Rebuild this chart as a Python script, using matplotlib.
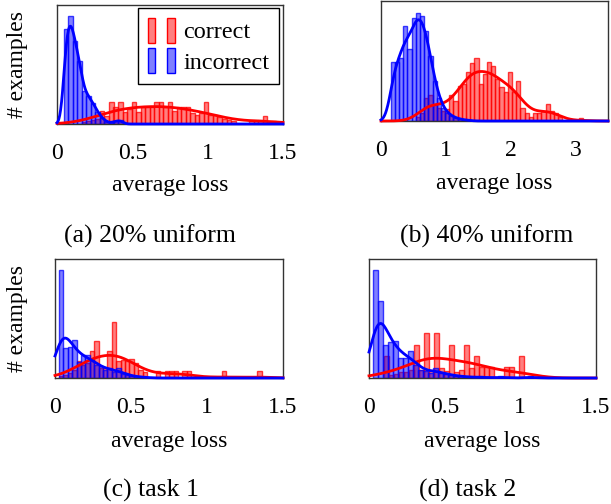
import numpy as np
import matplotlib
matplotlib.use("Agg")
import matplotlib.pyplot as plt
from matplotlib.patches import Rectangle
from matplotlib.legend_handler import HandlerTuple

plt.rcParams['font.family'] = ['Liberation Serif', 'DejaVu Serif']

# ---- histogram counts (bin start, bin width, counts) ----
# (a) 20% uniform
a_bin_start, a_bin_width = 0.045, 0.03
a_correct = [0, 0, 0, 0, 2, 3, 4, 5, 13, 8, 22, 17, 22, 12, 15, 22, 12, 17, 17, 17,
             22, 22, 17, 22, 13, 17, 17, 17, 11, 9, 11, 22, 9, 9, 7, 5, 4, 3, 0, 0,
             0, 4, 4, 4, 8, 3, 3, 2]
a_incorrect = [95, 108, 83, 63, 33, 28, 21, 12, 6, 2, 1, 3, 4]

# (b) 40% uniform
b_bin_start, b_bin_width = 0.15, 0.0645
b_correct = [0, 0, 0, 0, 0, 0, 4, 8, 23, 26, 17, 13, 10, 12, 26, 20, 35, 37, 49, 58,
             63, 37, 47, 59, 55, 42, 34, 29, 49, 29, 40, 13, 8, 4, 8, 8, 10, 17, 10, 8,
             4, 0, 0, 0, 0, 3]
b_incorrect = [59, 59, 63, 95, 72, 103, 108, 105, 90, 65, 40, 23, 13, 8, 5, 3, 2, 1, 1]

# (c) task 1
c_bin_start, c_bin_width = 0.026, 0.029
c_correct = [2, 3, 5, 8, 17, 13, 15, 27, 37, 10, 10, 27, 56, 17, 18, 17, 19, 15, 8, 6,
             0, 0, 7, 0, 7, 7, 7, 0, 7, 7, 0, 0, 0, 0, 0, 0, 0, 7, 0, 0,
             0, 0, 0, 0, 0, 7]
c_incorrect = [108, 30, 31, 38, 16, 23, 23, 18, 13, 12, 8, 10, 6, 10, 4, 3, 2, 1, 1, 1]

# (d) task 2
d_correct_start, d_incorrect_start, d_bin_width = 0.102, 0.029, 0.033
d_correct = [22, 3, 4, 6, 6, 8, 33, 8, 45, 8, 45, 10, 7, 33, 6, 8, 33, 10, 22, 11,
             11, 11, 0, 0, 11, 11, 0, 22]
d_incorrect = [108, 77, 33, 36, 37, 20, 20, 27, 13, 8, 7, 5, 10, 5, 4, 3, 2, 2, 1, 1,
               0, 2, 0, 0, 0, 2, 0, 0, 0, 0, 0, 2]

captions = ["(a) 20% uniform", "(b) 40% uniform", "(c) task 1", "(d) task 2"]

RED = (1, 0, 0)
BLUE = (0, 0, 1)
W, H = 611, 504


def px_axes(fig, left, top, right, bottom):
    return fig.add_axes([left / W, 1 - bottom / H, (right - left) / W, (bottom - top) / H])


def kde(counts, start, width, bw, x):
    counts = np.asarray(counts, dtype=float)
    centers = start + width * (np.arange(len(counts)) + 0.5)
    z = (x[:, None] - centers[None, :]) / bw
    dens = (counts[None, :] * np.exp(-0.5 * z ** 2)).sum(axis=1) / (bw * np.sqrt(2 * np.pi))
    return dens * width


def draw_hist(ax, counts, start, width, color):
    counts = np.asarray(counts, dtype=float)
    left = start + width * np.arange(len(counts))
    keep = counts > 0
    ax.bar(left[keep], counts[keep], width=width, align='edge',
           facecolor=color + (0.5,), edgecolor=color + (0.75,), linewidth=1.0, zorder=2)


def panel(ax, xmax, ymax, correct, c_start, c_width, c_bw,
          incorrect, i_start, i_width, i_bw, ticks, ticklabels):
    draw_hist(ax, correct, c_start, c_width, RED)
    draw_hist(ax, incorrect, i_start, i_width, BLUE)
    x = np.linspace(0, xmax, 500)
    ax.plot(x, kde(correct, c_start, c_width, c_bw, x), color=RED, lw=2, zorder=3, clip_on=False)
    ax.plot(x, kde(incorrect, i_start, i_width, i_bw, x), color=BLUE, lw=2, zorder=3, clip_on=False)
    ax.set_xlim(0, xmax)
    ax.set_ylim(0, ymax)
    ax.set_yticks([])
    ax.set_xticks(ticks)
    ax.set_xticklabels(ticklabels)
    ax.tick_params(axis='x', length=0, pad=14, labelsize=17)
    for s in ax.spines.values():
        s.set_color('#333333')
        s.set_linewidth(1.0)


fig = plt.figure(figsize=(W / 100, H / 100), dpi=100)

ax_a = px_axes(fig, 57, 5, 283, 124)
panel(ax_a, 1.5, 119, a_correct, a_bin_start, a_bin_width, 0.14,
      a_incorrect, a_bin_start, a_bin_width, 0.022,
      [0, 0.5, 1, 1.5], ['0', '0.5', '1', '1.5'])

ax_b = px_axes(fig, 381, 1, 608, 121)
panel(ax_b, 3.5, 120, b_correct, b_bin_start, b_bin_width, 0.16,
      b_incorrect, b_bin_start, b_bin_width, 0.075,
      [0, 1, 2, 3], ['0', '1', '2', '3'])

ax_c = px_axes(fig, 55, 259, 283, 378)
panel(ax_c, 1.5, 119, c_correct, c_bin_start, c_bin_width, 0.1,
      c_incorrect, c_bin_start, c_bin_width, 0.05,
      [0, 0.5, 1, 1.5], ['0', '0.5', '1', '1.5'])

ax_d = px_axes(fig, 369, 259, 596, 378)
panel(ax_d, 1.5, 119, d_correct, d_correct_start, d_bin_width, 0.12,
      d_incorrect, d_incorrect_start, d_bin_width, 0.052,
      [0, 0.5, 1, 1.5], ['0', '0.5', '1', '1.5'])

# legend with two little bars per entry
red_patch = Rectangle((0, 0), 1, 1, facecolor=RED + (0.5,), edgecolor=RED, linewidth=1)
blue_patch = Rectangle((0, 0), 1, 1, facecolor=BLUE + (0.5,), edgecolor=BLUE, linewidth=1)
leg = ax_a.legend([(red_patch, red_patch), (blue_patch, blue_patch)], ['correct', 'incorrect'],
                  handler_map={tuple: HandlerTuple(ndivide=None, pad=0.5)},
                  loc='upper right', bbox_to_anchor=(0.982, 0.975), borderaxespad=0,
                  fontsize=17.5, fancybox=False, framealpha=1, edgecolor='black',
                  handlelength=1.1, handleheight=1.2, handletextpad=0.35,
                  labelspacing=0.2, borderpad=0.4)
leg.get_frame().set_linewidth(1.0)

# axis labels and captions
for xc, yc in [(170, 186), (494, 184), (169, 442), (482, 442)]:
    fig.text(xc / W, 1 - yc / H, 'average loss', ha='center', va='center', fontsize=17)
for yc in [64, 319]:
    fig.text(18 / W, 1 - yc / H, '# examples', ha='center', va='center', rotation=90, fontsize=17)
for (xc, yc), cap in zip([(150, 236), (487, 236), (151, 490), (468, 490)], captions):
    fig.text(xc / W, 1 - yc / H, cap, ha='center', va='center', fontsize=18.5)

fig.savefig('out.png', dpi=100)
